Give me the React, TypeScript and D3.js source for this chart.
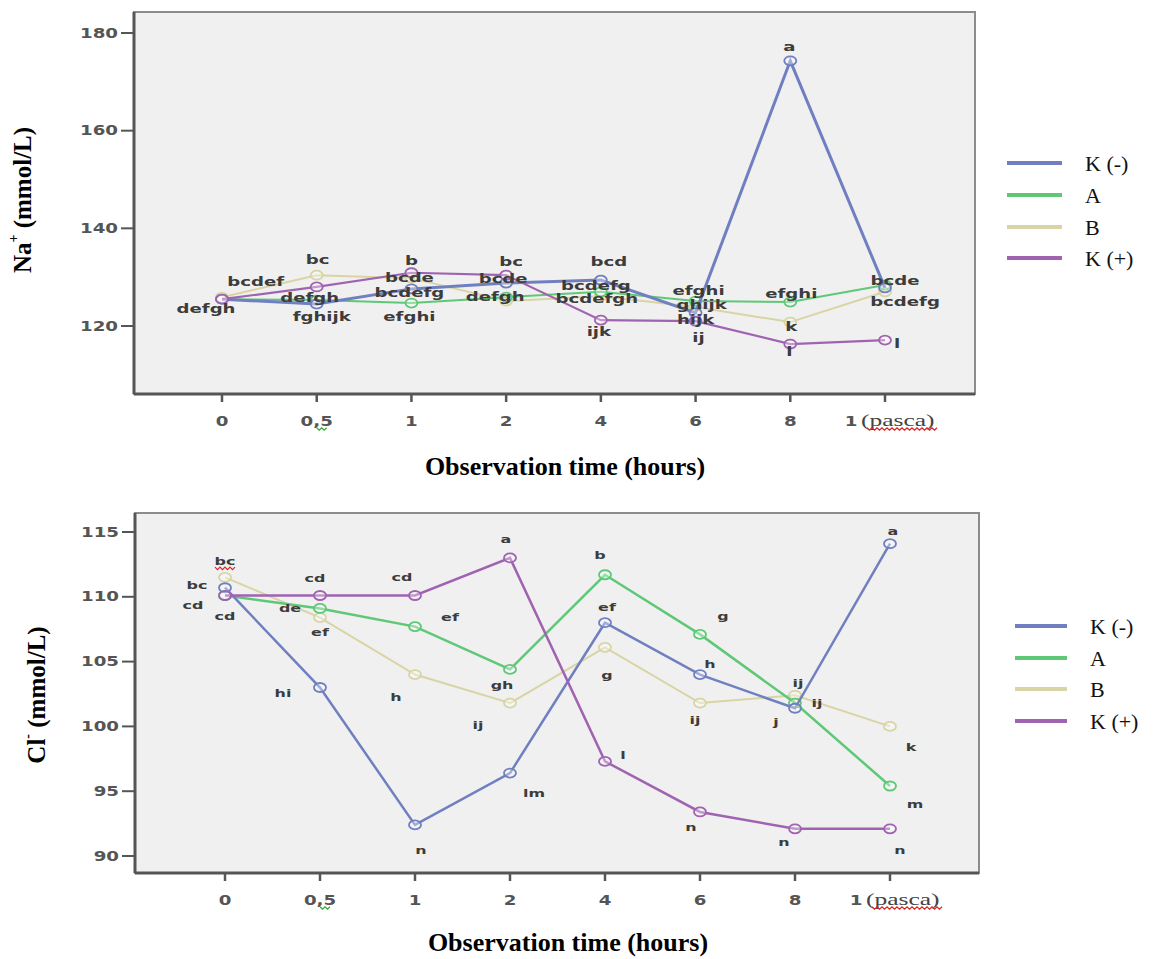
import React from "react";
import * as d3 from "d3";

// ---- data ----
const times = ["0", "0,5", "1", "2", "4", "6", "8", "1 (pasca)"];
const seriesNames = ["K (-)", "A", "B", "K (+)"];
const seriesColors = ["#6f7fc0", "#5fc877", "#d8d4a4", "#a063b1"];

// Na+ (mmol/L)
const naKneg = [125.5, 124.5, 127.6, 128.8, 129.4, 122.7, 174.3, 127.8];
const naA = [125.5, 125.3, 124.7, 125.9, 127.0, 125.1, 124.9, 128.4];
const naB = [125.9, 130.4, 129.8, 125.1, 126.1, 123.9, 120.8, 127.0];
const naKpos = [125.5, 128.0, 130.9, 130.4, 121.2, 121.0, 116.3, 117.1];
const naLetters = [
  ["", "fghijk", "bcdefg", "bcde", "bcd", "hijk", "a", ""],
  ["", "defgh", "efghi", "", "bcdefg", "efghi", "efghi", "bcde"],
  ["", "bc", "bcde", "defgh", "bcdefgh", "ghijk", "k", "bcdefg"],
  ["defgh", "bcdef", "b", "bc", "ijk", "ij", "l", "l"],
];
const naTicks = [120, 140, 160, 180];

// Cl- (mmol/L)
const clKneg = [110.7, 103.0, 92.4, 96.4, 108.0, 104.0, 101.4, 114.1];
const clA = [110.1, 109.1, 107.7, 104.4, 111.7, 107.1, 101.8, 95.4];
const clB = [111.5, 108.4, 104.0, 101.8, 106.1, 101.8, 102.4, 100.0];
const clKpos = [110.1, 110.1, 110.1, 113.0, 97.3, 93.4, 92.1, 92.1];
const clLetters = [
  ["bc", "hi", "n", "lm", "ef", "h", "j", "a"],
  ["cd", "de", "ef", "gh", "b", "g", "ij", "m"],
  ["bc", "ef", "h", "ij", "g", "ij", "ij", "k"],
  ["cd", "cd", "cd", "a", "l", "n", "n", "n"],
];
const clTicks = [90, 95, 100, 105, 110, 115];

// ---- layout: where each letter sits relative to its point ----
const naLabelOffsets = [
  [[0, 0], [5, 13], [-2, 4], [-3, -4], [8, -18], [0, 7], [-1, -14], [0, 0]],
  [[0, 0], [-7, -2], [-2, 14], [0, 0], [-5, -6], [3, -10], [1, -8], [10, -4]],
  [[0, 0], [1, -15], [-2, 0], [-11, -4], [-4, 3], [6, -2], [1, 5], [20, 10]],
  [[-16, 10], [-61, -5], [0, -12], [5, -13], [-2, 12], [3, 17], [-1, 8], [12, 4]],
];
const clLabelOffsets = [
  [[-28, -3], [-37, 5], [6, 25], [24, 20], [2, -16], [10, -11], [-19, 14], [3, -13]],
  [[-32, 9], [-30, 0], [35, -10], [-8, 16], [-5, -20], [23, -18], [22, 0], [25, 18]],
  [[0, -16], [0, 14], [-19, 22], [-32, 22], [2, 28], [-5, 17], [3, -12], [21, 21]],
  [[0, 20], [-5, -18], [-13, -19], [-4, -19], [18, -6], [-9, 15], [-11, 13], [10, 21]],
];

const drawOrder = [2, 1, 0, 3];

const squiggle = (x0: number, x1: number, y: number) => {
  const pts: [number, number][] = [];
  let up = true;
  for (let x = x0; x <= x1; x += 2.5) {
    pts.push([x, y + (up ? -1.2 : 1.2)]);
    up = !up;
  }
  return d3.line()(pts) || "";
};

type PanelProps = {
  values: number[][];
  letters: string[][];
  offsets: number[][][];
  yDomain: [number, number];
  yRange: [number, number];
  ticks: number[];
  frame: { left: number; top: number; right: number; bottom: number };
  xRange: [number, number];
  widths: number[];
  labelSize: number;
  legend: { x1: number; x2: number; tx: number; ys: number[] };
  yTitle: { x: number; y: number; base: string; sup: string };
  xTitle: { x: number; y: number };
  underlineFirst?: boolean;
};

const Panel = (p: PanelProps) => {
  const { frame } = p;
  const x = d3.scalePoint<string>().domain(times).range(p.xRange);
  const y = d3.scaleLinear().domain(p.yDomain).range(p.yRange);
  const line = d3
    .line<number>()
    .x((_, i) => x(times[i]) as number)
    .y((d) => y(d));
  const tickY = frame.bottom + 27;
  const sx = 1.45;
  const tickFont = 13.5;

  return (
    <g>
      <rect
        x={frame.left}
        y={frame.top}
        width={frame.right - frame.left}
        height={frame.bottom - frame.top}
        fill="#f0f0f0"
        stroke="#8c8c8c"
        strokeWidth={2}
      />
      <line x1={frame.left} x2={frame.left} y1={frame.top} y2={frame.bottom} stroke="#555" strokeWidth={3} />
      <line x1={frame.left} x2={frame.right} y1={frame.bottom} y2={frame.bottom} stroke="#555" strokeWidth={3} />

      {/* y axis */}
      {p.ticks.map((t) => (
        <g key={t}>
          <line x1={frame.left - 13} x2={frame.left} y1={y(t)} y2={y(t)} stroke="#555" strokeWidth={2} />
          <text
            transform={`translate(${frame.left - 16},${y(t)}) scale(1.35,1)`}
            textAnchor="end"
            dominantBaseline="central"
            fontFamily="DejaVu Sans, sans-serif"
            fontWeight="bold"
            fontSize={tickFont}
            fill="#555"
          >
            {t}
          </text>
        </g>
      ))}

      {/* x axis */}
      {times.map((t, i) => {
        const cx = x(t) as number;
        return (
          <g key={t}>
            <line x1={cx} x2={cx} y1={frame.bottom} y2={frame.bottom + 8} stroke="#555" strokeWidth={2.5} />
            {i === times.length - 1 ? (
              <g>
                <text
                  transform={`translate(${cx - 34},${tickY}) scale(1.35,1)`}
                  textAnchor="middle"
                  dominantBaseline="central"
                  fontFamily="DejaVu Sans, sans-serif"
                  fontWeight="bold"
                  fontSize={tickFont}
                  fill="#555"
                >
                  1
                </text>
                <text
                  transform={`translate(${cx - 24},${tickY}) scale(1.5,1)`}
                  dominantBaseline="central"
                  fontFamily="Liberation Serif, serif"
                  fontSize={17}
                  fill="#444"
                >
                  (pasca)
                </text>
                <path d={squiggle(cx - 18, cx + 52, tickY + 8)} stroke="#d22" strokeWidth={1.2} fill="none" />
              </g>
            ) : (
              <text
                transform={`translate(${cx},${tickY}) scale(1.35,1)`}
                textAnchor="middle"
                dominantBaseline="central"
                fontFamily="DejaVu Sans, sans-serif"
                fontWeight="bold"
                fontSize={tickFont}
                fill="#555"
              >
                {t}
              </text>
            )}
            {t === "0,5" && (
              <path d={squiggle(cx, cx + 12, tickY + 8)} stroke="#3a3" strokeWidth={1.2} fill="none" />
            )}
          </g>
        );
      })}

      {/* lines and markers */}
      {drawOrder.map((s) => (
        <g key={s}>
          <path d={line(p.values[s]) || ""} fill="none" stroke={seriesColors[s]} strokeWidth={p.widths[s]} />
          {p.values[s].map((v, i) => (
            <ellipse
              key={i}
              cx={x(times[i]) as number}
              cy={y(v)}
              rx={6}
              ry={4.5}
              fill="rgba(255,255,255,0.35)"
              stroke={seriesColors[s]}
              strokeWidth={1.8}
            />
          ))}
        </g>
      ))}

      {/* letters */}
      {p.letters.map((row, s) =>
        row.map((txt, i) =>
          txt ? (
            <text
              key={`${s}-${i}`}
              transform={`translate(${(x(times[i]) as number) + p.offsets[s][i][0]},${
                y(p.values[s][i]) + p.offsets[s][i][1]
              }) scale(${sx},1)`}
              textAnchor="middle"
              dominantBaseline="central"
              fontFamily="DejaVu Sans, sans-serif"
              fontWeight="bold"
              fontSize={p.labelSize}
              fill="#3c3c3c"
            >
              {txt}
            </text>
          ) : null
        )
      )}
      {p.underlineFirst && (
        <path
          d={squiggle(
            (x(times[0]) as number) - 10,
            (x(times[0]) as number) + 12,
            y(p.values[2][0]) + p.offsets[2][0][1] + 7
          )}
          stroke="#d22"
          strokeWidth={1.2}
          fill="none"
        />
      )}

      {/* legend */}
      {seriesNames.map((n, i) => (
        <g key={n}>
          <line
            x1={p.legend.x1}
            x2={p.legend.x2}
            y1={p.legend.ys[i]}
            y2={p.legend.ys[i]}
            stroke={seriesColors[i]}
            strokeWidth={4}
          />
          <text
            x={p.legend.tx}
            y={p.legend.ys[i]}
            dominantBaseline="central"
            fontFamily="Liberation Serif, serif"
            fontSize={22}
            fill="#111"
          >
            {n}
          </text>
        </g>
      ))}

      {/* titles */}
      <text
        transform={`translate(${p.yTitle.x},${p.yTitle.y}) rotate(-90)`}
        textAnchor="middle"
        dominantBaseline="central"
        fontFamily="Liberation Serif, serif"
        fontWeight="bold"
        fontSize={25}
        fill="#000"
      >
        {p.yTitle.base}
        <tspan fontSize={14} dy={-9}>
          {p.yTitle.sup}
        </tspan>
        <tspan dy={9}> (mmol/L)</tspan>
      </text>
      <text
        x={p.xTitle.x}
        y={p.xTitle.y}
        textAnchor="middle"
        dominantBaseline="central"
        fontFamily="Liberation Serif, serif"
        fontWeight="bold"
        fontSize={26}
        fill="#000"
      >
        Observation time (hours)
      </text>
    </g>
  );
};

export default function App() {
  return (
    <svg
      width={1153}
      height={959}
      style={{ position: "absolute", left: 0, top: 0, background: "#fff" }}
    >
      <Panel
        values={[naKneg, naA, naB, naKpos]}
        letters={naLetters}
        offsets={naLabelOffsets}
        yDomain={[120, 180]}
        yRange={[326, 33]}
        ticks={naTicks}
        frame={{ left: 134, top: 12, right: 975, bottom: 394 }}
        xRange={[222, 885]}
        widths={[3, 2, 2, 2.2]}
        labelSize={12.5}
        legend={{ x1: 1007, x2: 1062, tx: 1085, ys: [163, 195, 227, 258] }}
        yTitle={{ x: 22, y: 200, base: "Na", sup: "+" }}
        xTitle={{ x: 565, y: 466 }}
      />
      <Panel
        values={[clKneg, clA, clB, clKpos]}
        letters={clLetters}
        offsets={clLabelOffsets}
        yDomain={[90, 115]}
        yRange={[856, 532]}
        ticks={clTicks}
        frame={{ left: 135, top: 513, right: 979, bottom: 873 }}
        xRange={[225, 890]}
        widths={[2.5, 2.5, 2, 2.5]}
        labelSize={11}
        legend={{ x1: 1015, x2: 1067, tx: 1090, ys: [626, 658, 689, 721] }}
        yTitle={{ x: 36, y: 695, base: "Cl", sup: "-" }}
        xTitle={{ x: 568, y: 942 }}
        underlineFirst
      />
    </svg>
  );
}
